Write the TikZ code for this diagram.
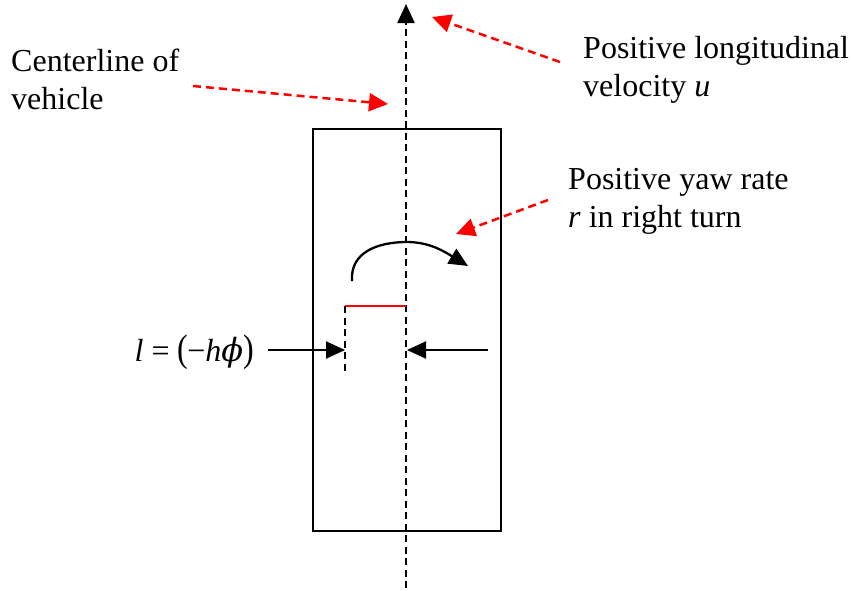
\documentclass[tikz,border=0pt]{standalone}
\usepackage{fontspec}
\setmainfont{Liberation Serif}
\newfontfamily\phifont{DejaVu Serif}
\usetikzlibrary{arrows.meta}
\begin{document}
\begin{tikzpicture}[x=1pt,y=-1pt,
  lbl/.style={font=\fontsize{32}{38}\selectfont, align=left, anchor=north west, inner sep=0pt},
  cdash/.style={line width=2.4pt, black, dash pattern=on 7pt off 4.5pt},
  redarrow/.style={red, line width=2.5pt, dash pattern=on 8pt off 5pt, -{Triangle[length=19pt,width=18pt]}},
  blktip/.style={-{Triangle[length=19pt,width=17pt]}}]
\useasboundingbox (0,0) rectangle (851,590);
% vehicle body
\node[draw, line width=2.4pt, minimum width=188pt, minimum height=402pt, inner sep=0pt, anchor=north west] (body) at (312,128) {};
% centerline
\coordinate (cbot) at (406,588);
\coordinate (ctop) at (406,4);
\draw[cdash, blktip] (cbot) -- (ctop);
% labels
\node[lbl] (center) at (11,49) {Centerline of\\vehicle};
\node[lbl] (long) at (583,36) {Positive longitudinal\\velocity \textit{u}};
\node[lbl] (yaw) at (568,168) {Positive yaw rate\\\textit{r} in right turn};
% red pointers
\coordinate (c1s) at (193,86); \coordinate (c1e) at (388,104);
\coordinate (c2s) at (560,62); \coordinate (c2e) at (432,17);
\coordinate (c3s) at (548,200); \coordinate (c3e) at (456,234);
\draw[redarrow] (c1s) -- (c1e);
\draw[redarrow] (c2s) -- (c2e);
\draw[redarrow] (c3s) -- (c3e);
% yaw arc
\coordinate (ys) at (352,281);
\coordinate (ym) at (407,242);
\coordinate (ye) at (468,266);
\draw[line width=2.3pt, blktip] (ys) .. controls (350,252) and (378,242) .. (ym) .. controls (430,242) and (445,252) .. (ye);
% offset
\coordinate (rl) at (345,306);
\coordinate (rr) at (406,306);
\draw[red, line width=2.8pt] (rl) -- (rr);
\coordinate (sb) at (345,372);
\draw[line width=2.2pt, dash pattern=on 7pt off 4.5pt] (rl) -- (sb);
\coordinate (al) at (345,350);
\coordinate (ar) at (407,350);
\coordinate (als) at (268,350);
\coordinate (ars) at (488,350);
\draw[line width=2pt, blktip] (als) -- (al);
\draw[line width=2pt, blktip] (ars) -- (ar);
\node[font=\fontsize{32}{38}\selectfont, anchor=base east, inner sep=0pt] (eq) at (254,361) {\textit{l}\kern8pt=\kern8pt\scalebox{1}[1.2]{(}\kern-1pt−\textit{h}{\phifont\itshape ϕ}\scalebox{1}[1.2]{)}};
\end{tikzpicture}
\end{document}
